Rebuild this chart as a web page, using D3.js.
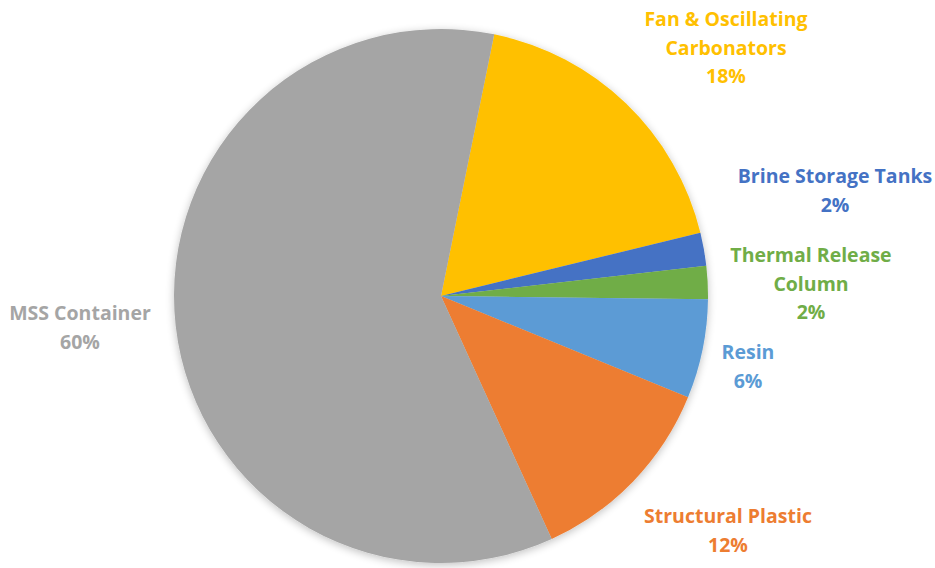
<!DOCTYPE html>
<html>
<head>
<meta charset="utf-8">
<script src="https://cdn.jsdelivr.net/npm/d3@7/dist/d3.min.js"></script>
<style>
  html, body { margin: 0; padding: 0; background: #ffffff; }
  svg { display: block; }
  .lbl { font-family: "Open Sans", Lato, sans-serif; font-weight: 700; }
</style>
</head>
<body>
<svg id="chart" width="935" height="568"></svg>
<script>
// Cost breakdown, clockwise from the top
const categories = ["Fan & Oscillating Carbonators", "Brine Storage Tanks", "Thermal Release Column", "Resin", "Structural Plastic", "MSS Container"];
const shares = [18, 2, 2, 6, 12, 60];
const colors = ["#FFC000", "#4472C4", "#70AD47", "#5B9BD5", "#ED7D31", "#A5A5A5"];
const labelLines = [
  ["Fan & Oscillating", "Carbonators", "18%"],
  ["Brine Storage Tanks", "2%"],
  ["Thermal Release", "Column", "2%"],
  ["Resin", "6%"],
  ["Structural Plastic", "12%"],
  ["MSS Container", "60%"]
];
// label anchor (centre of first line) per slice
const labelPos = [[726, 19], [835, 176], [811, 255], [748, 352], [728, 516], [80, 313]];

const svg = d3.select("#chart");
const cx = 441, cy = 296, r = 267;

const defs = svg.append("defs");
const f = defs.append("filter").attr("id", "soft").attr("x", "-10%").attr("y", "-10%").attr("width", "120%").attr("height", "120%");
f.append("feGaussianBlur").attr("in", "SourceAlpha").attr("stdDeviation", 4).attr("result", "b");
f.append("feOffset").attr("in", "b").attr("dy", 2).attr("result", "o");
f.append("feComponentTransfer").attr("in", "o").attr("result", "s")
  .append("feFuncA").attr("type", "linear").attr("slope", 0.25);
const m = f.append("feMerge");
m.append("feMergeNode").attr("in", "s");
m.append("feMergeNode").attr("in", "SourceGraphic");

const startA = 11.5 * Math.PI / 180;
const pie = d3.pie().sort(null).value(d => d)
  .startAngle(startA).endAngle(startA + 2 * Math.PI);
const arc = d3.arc().innerRadius(0).outerRadius(r);

const g = svg.append("g").attr("transform", `translate(${cx},${cy})`).attr("filter", "url(#soft)");
g.selectAll("path").data(pie(shares)).join("path")
  .attr("d", arc)
  .attr("fill", (d, i) => colors[i]);

const fs = 19.5, lh = 28.8;
const lg = svg.append("g");
labelLines.forEach((lines, i) => {
  const t = lg.append("text").attr("class", "lbl")
    .attr("text-anchor", "middle")
    .attr("font-size", fs)
    .attr("fill", colors[i])
    .attr("x", labelPos[i][0]).attr("y", labelPos[i][1]);
  lines.forEach((s, k) => {
    t.append("tspan").attr("x", labelPos[i][0]).attr("y", labelPos[i][1] + k * lh)
      .attr("dy", "0.35em").text(s);
  });
});
</script>
</body>
</html>
